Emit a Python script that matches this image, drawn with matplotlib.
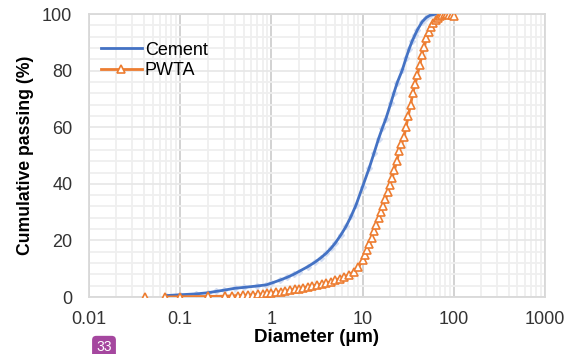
import matplotlib
matplotlib.use('Agg')
import matplotlib.pyplot as plt
import numpy as np
from matplotlib.ticker import FixedLocator, NullFormatter

plt.rcParams['font.family'] = ['Liberation Sans', 'DejaVu Sans']

# Cement particle size distribution
cement_d = [0.07, 0.1, 0.15, 0.2, 0.25, 0.3, 0.4, 0.5, 0.7, 0.88, 1.0, 1.25, 1.5,
            1.75, 2.0, 2.5, 3.0, 3.5, 4.0, 4.5, 5.0, 5.8, 6.6, 7.5, 8.5, 10,
            11.8, 13.4, 15, 16.5, 18, 20.4, 22, 24, 27.3, 30, 32.5, 35, 37.5,
            40, 45, 50, 55, 63]
cement_pass = [0.5, 0.8, 1.1, 1.5, 2.0, 2.4, 3.1, 3.4, 3.9, 4.3, 4.9, 6.0, 7.0,
               8.0, 9.0, 10.7, 12.3, 13.9, 15.5, 17.2, 19.0, 22.0, 25.0, 28.6,
               32.6, 39.0, 45.5, 51.0, 56.0, 59.8, 63.0, 68.5, 72.0, 75.8, 80.3,
               84.5, 87.8, 90.5, 92.6, 94.5, 97.3, 98.8, 99.6, 100.0]

# PWTA particle size distribution (nan = gap after the first point)
pwta_d = [0.041, 0.055, 0.069, 0.10, 0.20, 0.31, 0.37, 0.43, 0.49, 0.56, 0.63,
          0.71, 0.80, 0.90, 1.0, 1.13, 1.27, 1.42, 1.6, 1.8, 2.0, 2.25, 2.5,
          2.8, 3.2, 3.6, 4.0, 4.5, 5.0, 5.6, 6.3, 7.1, 8.0, 9.0, 10.0, 10.6,
          11.2, 11.9, 12.6, 13.3, 14.1, 15.0, 15.9, 16.8, 17.8, 18.9, 20.0,
          21.2, 22.4, 23.8, 25.2, 26.7, 28.3, 30.0, 31.7, 33.6, 35.6, 37.8,
          39.9, 42.3, 44.8, 47.5, 50.2, 53.3, 56.4, 59.8, 63.2, 67.0, 71.0,
          75.2, 79.6, 84.3, 89.3, 94.6, 100.2]
pwta_pass = [0.0, np.nan, 0.0, 0.1, 0.2, 0.3, 0.4, 0.5, 0.6, 0.7, 0.8,
             0.9, 1.1, 1.3, 1.5, 1.7, 1.9, 2.1, 2.4, 2.7, 3.0, 3.3, 3.6,
             3.9, 4.3, 4.6, 5.0, 5.4, 5.9, 6.5, 7.1, 7.9, 8.9, 10.5, 13.0, 14.7,
             16.5, 18.7, 21.0, 23.2, 25.5, 27.8, 30.0, 32.2, 34.5, 37.0, 39.5,
             42.2, 45.0, 48.2, 51.5, 54.0, 56.5, 60.2, 64.0, 68.0, 72.0, 75.3,
             78.5, 82.0, 85.5, 88.5, 91.5, 93.6, 95.5, 96.8, 97.8, 98.6, 99.3,
             99.7, 99.9, 99.9, 99.8, 99.7, 99.5]

x_ticks = [0.01, 0.1, 1, 10, 100, 1000]
x_tick_labels = ['0.01', '0.1', '1', '10', '100', '1000']
y_ticks = [0, 20, 40, 60, 80, 100]

blue = '#4472C4'
orange = '#ED7D31'

fig = plt.figure(figsize=(5.65, 3.54), dpi=100)
ax = fig.add_axes([0.1575, 0.161, 0.807, 0.799])

# faint sample markers under the cement line
ax.plot(cement_d, cement_pass, ls='none', marker='D', ms=3,
        mfc='#d3ddf2', mec='#d3ddf2', zorder=2)
ax.plot(cement_d, cement_pass, color=blue, lw=2, label='Cement', zorder=3)
ax.plot(pwta_d, pwta_pass, color=orange, lw=2, marker='^', ms=6,
        mfc='white', mec=orange, mew=1.2, label='PWTA', zorder=4)

ax.set_xscale('log')
ax.set_xlim(0.01, 1000)
ax.set_ylim(0, 100)
ax.set_xticks(x_ticks)
ax.set_xticklabels(x_tick_labels)
ax.xaxis.set_minor_locator(FixedLocator(
    [m * 10.0 ** e for e in range(-2, 3) for m in range(2, 10)]))
ax.xaxis.set_minor_formatter(NullFormatter())
ax.set_yticks(y_ticks)
ax.yaxis.set_minor_locator(FixedLocator(np.arange(0, 101, 4)))

ax.grid(True, which='minor', axis='both', color='#efefef', lw=1.3)
ax.grid(True, which='major', axis='y', color='#e8e8e8', lw=1.3)
ax.grid(True, which='major', axis='x', color='#cfcfcf', lw=1.3)
ax.set_axisbelow(True)

ax.tick_params(which='both', length=0)
ax.tick_params(axis='x', pad=10, labelsize=13, labelcolor='#333333')
ax.tick_params(axis='y', pad=12, labelsize=13, labelcolor='#333333')
for s in ax.spines.values():
    s.set_color('#d9d9d9')
    s.set_linewidth(1.3)

ax.set_xlabel('Diameter (µm)', fontsize=13.5, fontweight='bold', labelpad=1)
ax.set_ylabel('Cumulative passing (%)', fontsize=12.7, fontweight='bold', labelpad=6)

ax.legend(loc='upper left', bbox_to_anchor=(-0.01, 0.96), frameon=False,
          fontsize=13, handlelength=2.3, handletextpad=0.15, labelspacing=0.2)

fig.text(104 / 565, 7 / 354, '33', color='white', fontsize=10, ha='center', va='center',
         bbox=dict(boxstyle='round,pad=0.3', fc='#a5479f', ec='none'))

fig.savefig('out.png', dpi=100, facecolor='white')
